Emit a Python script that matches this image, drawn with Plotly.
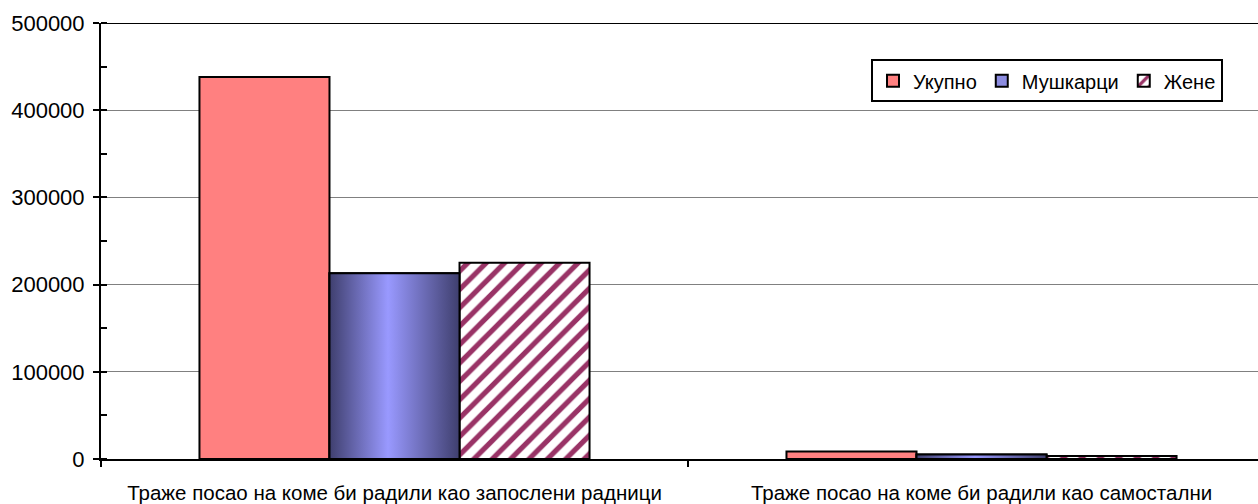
import plotly.graph_objects as go

categories = ["Траже посао на коме би радили као запослени радници",
              "Траже посао на коме би радили као самостални"]
series_names = ["Укупно", "Мушкарци", "Жене"]
total = [438000, 8500]
men = [213000, 5200]
women = [225000, 3300]

y_ticks = [0, 100000, 200000, 300000, 400000, 500000]

W = 0.2215
offsets = [-1.5 * W, -0.5 * W, 0.5 * W]
xs = list(range(len(categories)))

fig = go.Figure()

fig.add_trace(go.Bar(
    x=xs, y=total, name=series_names[0], width=W, offset=offsets[0],
    marker=dict(color="#ff8080", line=dict(color="black", width=2)),
))
fig.add_trace(go.Bar(
    x=xs, y=men, name=series_names[1], width=W, offset=offsets[1],
    marker=dict(color="#8c8ce0", line=dict(color="black", width=2)),
))
fig.add_trace(go.Bar(
    x=xs, y=women, name=series_names[2], width=W, offset=offsets[2],
    marker=dict(color="white", line=dict(color="black", width=2),
                pattern=dict(shape="/", fgcolor="#993366", bgcolor="white",
                             fgopacity=1, size=13, solidity=0.4)),
))

# gradient overlay for the men bars
for i, v in zip(xs, men):
    x0 = i + offsets[1]
    x1 = x0 + W
    fig.add_trace(go.Scatter(
        x=[x0, x0, x1, x1, x0], y=[0, v, v, 0, 0],
        mode="lines", fill="toself", showlegend=False, hoverinfo="skip",
        line=dict(color="black", width=2),
        fillgradient=dict(type="horizontal",
                          colorscale=[[0, "#3f3f6e"], [0.45, "#9999ff"], [1, "#3f3f6e"]]),
    ))

fig.update_layout(
    width=1258, height=504,
    margin=dict(l=101, r=0, t=23, b=45),
    paper_bgcolor="white", plot_bgcolor="white",
    barmode="overlay",
    font=dict(family="Liberation Sans, Arial, sans-serif", size=20.5, color="black"),
    legend=dict(orientation="h", x=0.6655, y=0.917, xanchor="left", yanchor="top",
                bordercolor="black", borderwidth=2, bgcolor="white",
                font=dict(size=20), itemwidth=30, tracegroupgap=0),
    xaxis=dict(range=[-0.5, 1.471], tickvals=xs, ticktext=categories,
               ticks="", showgrid=False, zeroline=False,
               showline=True, linecolor="black", linewidth=2,
               ticklabelstandoff=14,
               minor=dict(tickmode="array", tickvals=[-0.5, 0.5, 1.5], ticks="outside",
                          ticklen=6, tickcolor="black", tickwidth=2, showgrid=False)),
    yaxis=dict(range=[0, 500000], tickvals=y_ticks, ticks="outside", ticklen=6,
               tickcolor="black", tickwidth=2, tickformat="d",
               tickfont=dict(size=22),
               showgrid=True, gridcolor="#808080", gridwidth=1, zeroline=False,
               showline=True, linecolor="black", linewidth=2,
               ticklabelstandoff=4,
               minor=dict(dtick=50000, ticks="inside", ticklen=6, tickcolor="black",
                          tickwidth=2, showgrid=False)),
    shapes=[dict(type="line", xref="paper", x0=0, x1=1, yref="y", y0=500000, y1=500000,
                 line=dict(color="black", width=2))],
)

fig.write_html("out.html", config={"displayModeBar": False},
               post_script="document.body.style.margin='0';document.body.style.overflow='hidden';")
